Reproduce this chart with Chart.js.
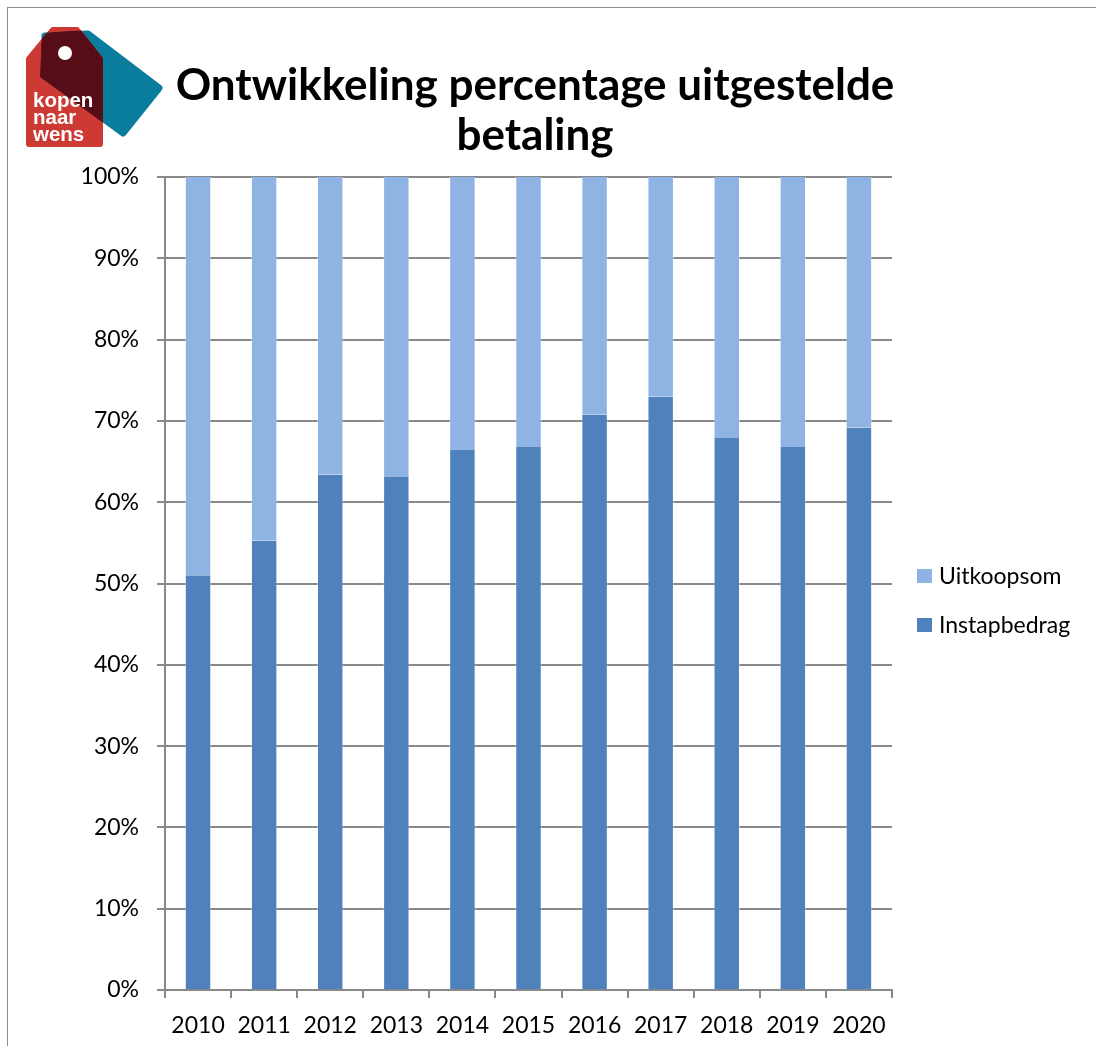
<!DOCTYPE html>
<html>
<head>
<meta charset="utf-8">
<script src="https://cdn.jsdelivr.net/npm/chart.js@4"></script>
<style>
  html, body { margin: 0; padding: 0; background: #fff; overflow: hidden; }
  #frame { position: absolute; left: 7px; top: 7px; width: 1200px; height: 1200px; border-left: 1px solid #8c8c8c; border-top: 1px solid #8c8c8c; }
  #wrap { position: absolute; left: 0; top: 0; width: 1070px; height: 1046px; }
  #logo { position: absolute; left: 0; top: 0; z-index: 2; }
  #legend { position: absolute; left: 917px; top: 560px; font-family: Lato, sans-serif; font-size: 23px; color: #000; }
  .lg-item { position: relative; height: 49px; }
  .lg-box { position: absolute; left: 0; top: 9px; width: 15px; height: 14px; }
  .lg-text { position: absolute; left: 22px; top: 0; line-height: 30px; white-space: nowrap; }
</style>
</head>
<body>
<div id="frame"></div>
<svg id="logo" width="170" height="155" viewBox="0 0 170 155">
  <defs>
    <clipPath id="tealClip">
      <polygon points="42,33 90,30 165,88 124,138 40,77" />
    </clipPath>
  </defs>
  <polygon points="45,36 88,34 159,88 123,133 44,75" fill="#0a7c9c" stroke="#0a7c9c" stroke-width="7" stroke-linejoin="round" />
  <polygon points="29,59 53,30 77,30 100,59 100,144 29,144" fill="#cc3a33" stroke="#cc3a33" stroke-width="6" stroke-linejoin="round" />
  <g clip-path="url(#tealClip)">
    <polygon points="29,59 53,30 77,30 100,59 100,144 29,144" fill="#560d18" stroke="#560d18" stroke-width="6" stroke-linejoin="round" />
  </g>
  <circle cx="65" cy="53" r="7" fill="#fff" />
  <g font-family="Liberation Sans, Arial, sans-serif" font-weight="bold" font-size="20.5" fill="#fff">
    <text x="33" y="107">kopen</text>
    <text x="33" y="124">naar</text>
    <text x="33" y="141">wens</text>
  </g>
</svg>
<div id="wrap"><canvas id="chart" width="1070" height="1046"></canvas></div>
<div id="legend"></div>
<script>
const years = ['2010', '2011', '2012', '2013', '2014', '2015', '2016', '2017', '2018', '2019', '2020'];
const instapbedrag = [51.0, 55.3, 63.4, 63.2, 66.5, 66.8, 70.8, 73.0, 67.9, 66.8, 69.2];
const uitkoopsom = [49.0, 44.7, 36.6, 36.8, 33.5, 33.2, 29.2, 27.0, 32.1, 33.2, 30.8];
const yTicks = [0, 10, 20, 30, 40, 50, 60, 70, 80, 90, 100];
const titleLines = ['Ontwikkeling percentage uitgestelde', 'betaling'];

const gridColor = '#898989';
const font = 'Lato';

const datasets = [
  { label: 'Instapbedrag', data: instapbedrag, backgroundColor: '#4f81bd' },
  { label: 'Uitkoopsom', data: uitkoopsom, backgroundColor: '#8fb3e2' },
];

new Chart(document.getElementById('chart'), {
  type: 'bar',
  data: {
    labels: years,
    datasets: datasets.map(d => ({
      ...d,
      borderColor: 'rgba(255,255,255,0.35)',
      borderWidth: { left: 1, right: 1, top: 0, bottom: 0 },
      borderSkipped: false,
      barPercentage: 1,
      categoryPercentage: 0.4
    }))
  },
  options: {
    responsive: false,
    animation: false,
    devicePixelRatio: 1,
    layout: { padding: 0 },
    scales: {
      x: {
        stacked: true,
        grid: { drawOnChartArea: false, drawTicks: true, tickLength: 8, color: gridColor, lineWidth: 2 },
        border: { color: gridColor, width: 2 },
        ticks: { color: '#000', font: { family: font, size: 23 }, padding: 14, maxRotation: 0 },
        afterFit: s => { s.height = 56; }
      },
      y: {
        stacked: true,
        min: 0,
        max: 100,
        afterBuildTicks: s => { s.ticks = yTicks.map(v => ({ value: v })); },
        grid: { color: gridColor, lineWidth: 2, tickLength: 8 },
        border: { color: gridColor, width: 2 },
        ticks: { color: '#000', font: { family: font, size: 23 }, padding: 18, callback: v => v + '%' },
        afterFit: s => { s.width = 165; }
      },
      spacer: {
        type: 'linear',
        position: 'right',
        display: true,
        grid: { display: false },
        border: { display: false },
        ticks: { display: false },
        afterFit: s => { s.width = 178; }
      }
    },
    plugins: {
      legend: { display: false },
      tooltip: { enabled: false },
      title: {
        display: true,
        text: titleLines,
        color: '#000',
        font: { family: font, size: 44, weight: 'bold', lineHeight: '50px' },
        padding: { top: 61, bottom: 16 }
      }
    }
  }
});

// legend, top entry is the upper stack
document.getElementById('legend').innerHTML = datasets.slice().reverse().map(d => `
  <div class="lg-item">
    <div class="lg-box" style="background:${d.backgroundColor}"></div>
    <div class="lg-text">${d.label}</div>
  </div>`).join('');
</script>
</body>
</html>
